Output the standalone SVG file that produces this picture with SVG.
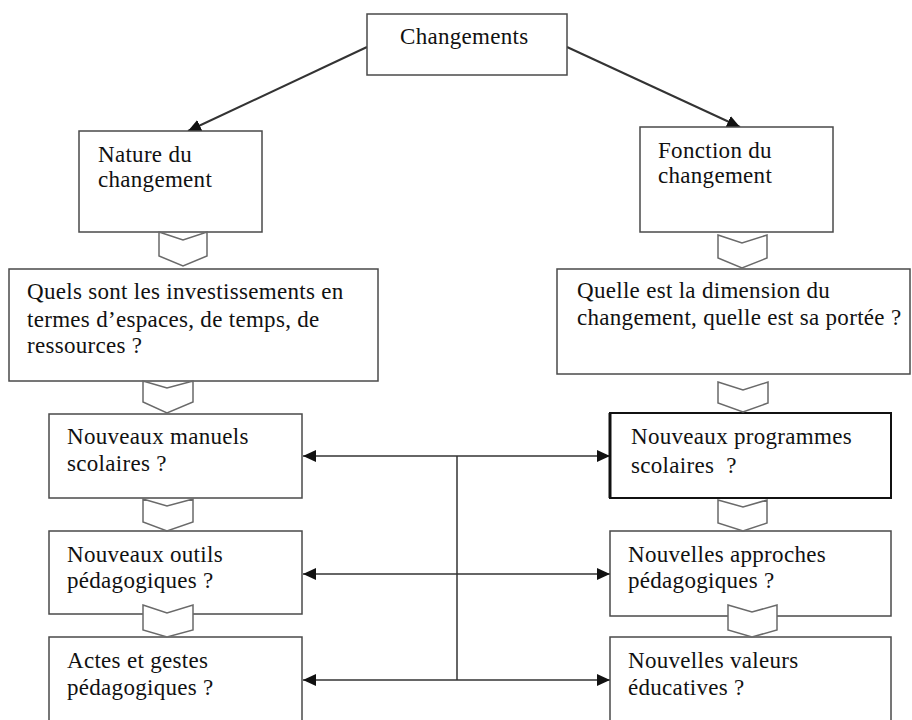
<svg xmlns="http://www.w3.org/2000/svg" width="912" height="720" viewBox="0 0 912 720">
<style>
.box{fill:#fff;stroke:#4a4a4a;stroke-width:1.5}
.bold{fill:#fff;stroke:#111;stroke-width:2}
.chev{fill:#fff;stroke:#6a6a6a;stroke-width:1.5;stroke-linejoin:miter}
.t{font-family:"Liberation Serif","Times New Roman",serif;font-size:23px;letter-spacing:0.3px;fill:#111}
.c{fill:none;stroke:#333;stroke-width:1.5}
.c2{fill:none;stroke:#333;stroke-width:2}
</style>
<defs>
<marker id="ah" viewBox="0 0 13 12" refX="13" refY="6" markerWidth="13" markerHeight="12" markerUnits="userSpaceOnUse" orient="auto-start-reverse">
<path d="M0,0 L13,6 L0,12 z" fill="#111"/>
</marker>
</defs>
<rect width="912" height="720" fill="#fff"/>

<g id="connectors">
<line class="c2" x1="367" y1="47" x2="188" y2="131" marker-end="url(#ah)"/>
<line class="c2" x1="567" y1="47" x2="740" y2="127" marker-end="url(#ah)"/>
<line class="c" x1="457" y1="456" x2="457" y2="680"/>
<line class="c" x1="303" y1="456" x2="610" y2="456" marker-start="url(#ah)" marker-end="url(#ah)"/>
<line class="c" x1="303" y1="574" x2="610" y2="574" marker-start="url(#ah)" marker-end="url(#ah)"/>
<line class="c" x1="303" y1="680" x2="610" y2="680" marker-start="url(#ah)" marker-end="url(#ah)"/>
</g>

<g id="changements">
<rect class="box" x="367" y="14" width="200" height="61"/>
<text class="t" x="400" y="44">Changements</text>
</g>

<g id="nature">
<rect class="box" x="79" y="131" width="183" height="101"/>
<text class="t" x="98" y="162">Nature du</text>
<text class="t" x="98" y="187">changement</text>
</g>

<g id="fonction">
<rect class="box" x="640" y="127" width="193" height="105"/>
<text class="t" x="658" y="158">Fonction du</text>
<text class="t" x="658" y="183">changement</text>
</g>

<g id="investissements">
<rect class="box" x="9" y="269" width="369" height="112"/>
<text class="t" x="27" y="299">Quels sont les investissements en</text>
<text class="t" x="27" y="327">termes d’espaces, de temps, de</text>
<text class="t" x="27" y="353">ressources ?</text>
</g>

<g id="dimension">
<rect class="box" x="557" y="269" width="353" height="105"/>
<text class="t" x="577" y="298">Quelle est la dimension du</text>
<text class="t" x="577" y="325">changement, quelle est sa portée ?</text>
</g>

<g id="manuels">
<rect class="box" x="49" y="414" width="253" height="84"/>
<text class="t" x="67" y="444">Nouveaux manuels</text>
<text class="t" x="67" y="471">scolaires ?</text>
</g>

<g id="outils">
<rect class="box" x="49" y="531" width="253" height="83"/>
<text class="t" x="67" y="562">Nouveaux outils</text>
<text class="t" x="67" y="588">pédagogiques ?</text>
</g>

<g id="actes">
<rect class="box" x="49" y="637" width="253" height="95"/>
<text class="t" x="67" y="668">Actes et gestes</text>
<text class="t" x="67" y="695">pédagogiques ?</text>
</g>

<g id="programmes">
<rect class="bold" x="610" y="413" width="281" height="85"/>
<line x1="610" y1="413" x2="610" y2="498" stroke="#111" stroke-width="3"/>
<text class="t" x="631" y="444">Nouveaux programmes</text>
<text class="t" x="631" y="473">scolaires&#160; ?</text>
</g>

<g id="approches">
<rect class="box" x="610" y="531" width="281" height="85"/>
<text class="t" x="628" y="562">Nouvelles approches</text>
<text class="t" x="628" y="588">pédagogiques ?</text>
</g>

<g id="valeurs">
<rect class="box" x="610" y="637" width="281" height="95"/>
<text class="t" x="628" y="668">Nouvelles valeurs</text>
<text class="t" x="628" y="695">éducatives ?</text>
</g>

<g id="chevrons">
<polygon class="chev" points="159,232 183,240 207,232 207,256 183,266 159,256"/>
<polygon class="chev" points="718,235 742,243 767,235 767,258 742,268 718,258"/>
<polygon class="chev" points="143,381 167,388 193,381 193,402 167,413 143,402"/>
<polygon class="chev" points="718,382 743,390 768,382 768,403 743,412 718,403"/>
<polygon class="chev" points="143,499 167,506 193,499 193,522 167,531 143,522"/>
<polygon class="chev" points="718,500 743,507 767,500 767,523 743,531 718,523"/>
<polygon class="chev" points="143,605 167,613 193,605 193,630 167,637 143,630"/>
<polygon class="chev" points="728,605 752,612 777,605 777,630 752,637 728,630"/>
</g>
</svg>
